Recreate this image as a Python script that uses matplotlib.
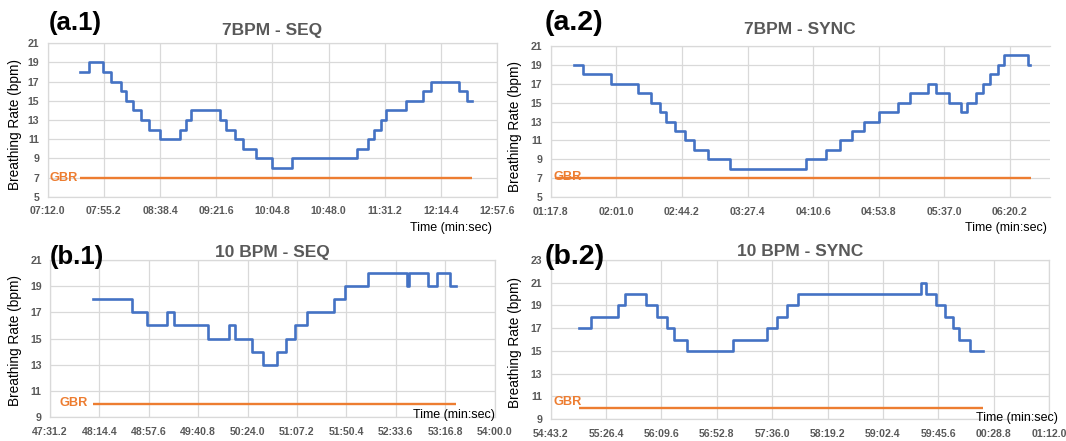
import numpy as np
import matplotlib
matplotlib.use("Agg")
import matplotlib.pyplot as plt
from matplotlib.ticker import FixedLocator, FuncFormatter

plt.rcParams['font.family'] = ['Liberation Sans', 'DejaVu Sans']

W, H = 1066, 441

# ---------------- data (time in seconds, breathing rate in bpm) ----------------
A1_T = [457.2, 463.7, 474.2, 480.4, 488.0, 492.4, 497.6, 503.6, 510.1, 518.4,
        533.8, 538.2, 542.6, 564.2, 569.4, 575.9, 582.2, 592.0, 604.5, 620.2,
        670.1, 678.4, 682.9, 688.3, 692.2, 707.9, 720.3, 726.9, 748.2, 754.7, 758.6]
A1_V = [18, 19, 18, 17, 16, 15, 14, 13, 12, 11,
        12, 13, 14, 13, 12, 11, 10, 9, 8, 9,
        10, 11, 12, 13, 14, 15, 16, 17, 16, 15, 15]
A1_GBR = 7
A1_GBR_T = [457.2, 758.6]

A2_T = [93.1, 99.2, 117.5, 135.6, 143.9, 149.8, 154.0, 159.7, 166.0, 172.1,
        181.6, 196.0, 245.6, 259.2, 268.0, 275.9, 283.8, 293.9, 306.3, 314.2,
        326.0, 331.8, 340.2, 348.1, 351.9, 357.8, 362.3, 366.8, 372.2, 376.3,
        392.0, 393.6]
A2_V = [19, 18, 17, 16, 15, 14, 13, 12, 11, 10,
        9, 8, 9, 10, 11, 12, 13, 14, 15, 16,
        17, 16, 15, 14, 15, 16, 17, 18, 19, 20,
        19, 19]
A2_GBR = 7
A2_GBR_T = [80.5, 394.0]

B1_T = [2888.7, 2923.2, 2935.7, 2953.7, 2959.6, 2989.7, 3007.7, 3013.3, 3027.5, 3037.8,
        3049.6, 3057.9, 3065.9, 3075.6, 3099.2, 3109.6, 3129.4, 3163.9, 3165.4, 3181.6,
        3189.3, 3201.1, 3206.1]
B1_V = [18, 17, 16, 17, 16, 15, 16, 15, 14, 13,
        14, 15, 16, 17, 18, 19, 20, 19, 20, 19,
        20, 19, 19]
B1_GBR = 10
B1_GBR_T = [2888.7, 3206.1]

B2_T = [3305.4, 3315.0, 3335.6, 3341.5, 3357.5, 3366.1, 3373.6, 3379.4, 3389.6, 3425.7,
        3451.9, 3459.9, 3467.9, 3475.9, 3572.2, 3576.2, 3584.2, 3590.6, 3596.8, 3602.1,
        3610.7, 3620.3]
B2_V = [17, 18, 19, 20, 19, 18, 17, 16, 15, 16,
        17, 18, 19, 20, 21, 20, 19, 18, 17, 16,
        15, 15]
B2_GBR = 10
B2_GBR_T = [3305.4, 3620.3]

TITLES = ["7BPM - SEQ", "7BPM - SYNC", "10 BPM - SEQ", "10 BPM - SYNC"]
PANEL_LABELS = ["(a.1)", "(a.2)", "(b.1)", "(b.2)"]
# x axis: first tick, step, axis max (seconds)
X_START = [432.0, 77.8, 2851.2, 3283.2]
X_STEP = 43.2
X_MAX = [777.6, 406.6, 3240.0, 3672.0]
Y_RANGE = [(5, 21), (5, 21), (9, 21), (9, 23)]

BLUE = '#4472C4'
ORANGE = '#ED7D31'
GRID = '#D9D9D9'
TICKC = '#595959'


def px(x, y):
    return x / W, 1 - y / H


def fmt(t, pos=None):
    d = int(round(t * 10))
    m = (d // 600) % 60
    s = (d % 600) / 10
    return f"{m:02d}:{s:04.1f}"


fig = plt.figure(figsize=(W / 100, H / 100), dpi=100)

# axes boxes in pixels: left, right, top, bottom
BOXES = [(47.7, 497.0, 43.3, 196.7),
         (550.7, 1050.0, 46.0, 197.0),
         (50.0, 494.5, 260.0, 417.0),
         (550.7, 1049.0, 260.0, 419.0)]

series = [(A1_T, A1_V, A1_GBR, A1_GBR_T),
          (A2_T, A2_V, A2_GBR, A2_GBR_T),
          (B1_T, B1_V, B1_GBR, B1_GBR_T),
          (B2_T, B2_V, B2_GBR, B2_GBR_T)]

axes = []
for i, (box, (T, V, g, gT)) in enumerate(zip(BOXES, series)):
    l, r, t, b = box
    ax = fig.add_axes([l / W, 1 - b / H, (r - l) / W, (b - t) / H])
    axes.append(ax)
    x0, x1 = X_START[i], X_MAX[i]
    y0, y1 = Y_RANGE[i]
    ax.set_xlim(x0, x1)
    ax.set_ylim(y0, y1)
    n = int(np.floor((x1 - x0) / X_STEP + 1e-6))
    xt = [x0 + k * X_STEP for k in range(n + 1)]
    ax.xaxis.set_major_locator(FixedLocator(xt))
    ax.xaxis.set_major_formatter(FuncFormatter(fmt))
    ax.set_yticks(np.arange(y0, y1 + 1, 2))
    ax.grid(True, color=GRID, lw=0.9)
    ax.set_axisbelow(True)
    for s in ax.spines.values():
        s.set_color(GRID)
        s.set_linewidth(0.9)
    if i == 1:
        ax.spines['right'].set_visible(False)
    ax.tick_params(length=0, labelsize=7.6, labelcolor=TICKC, pad=6)
    ax.tick_params(axis='x', pad=7)
    for lab in ax.get_xticklabels() + ax.get_yticklabels():
        lab.set_fontweight('bold')
    ax.plot(gT, [g, g], color=ORANGE, lw=1.7, solid_capstyle='butt', zorder=3)
    ax.step(T, V, where='post', color=BLUE, lw=1.9, zorder=4)

# titles
for (x, y), s in zip([(272, 30), (800, 30), (272, 252), (800, 252)], TITLES):
    fig.text(*px(x, y), s, ha='center', va='center', fontsize=12.5,
             fontweight='bold', color=TICKC)

# panel labels
for (x, y, fs), s in zip([(49, 23, 18.5), (545, 23, 20.5), (50, 257, 18.5), (545, 257, 20.5)],
                         PANEL_LABELS):
    fig.text(*px(x, y), s, ha='left', va='center', fontsize=fs,
             fontweight='bold', color='black')

# y labels
for (x, y) in [(15, 125), (515, 127), (15, 340), (515, 342)]:
    fig.text(*px(x, y), "Breathing Rate (bpm)", ha='center', va='center',
             rotation=90, fontsize=9.8, color='black')

# x labels
for (x, y) in [(492, 228), (1047, 228), (495, 415), (1058, 418)]:
    fig.text(*px(x, y), "Time (min:sec)", ha='right', va='center',
             fontsize=9, color='black', zorder=10)

# GBR labels
for (x, y) in [(78, 178), (554, 177), (59, 403), (554, 402)]:
    fig.text(*px(x, y), "GBR", ha='left' if x > 500 or x < 70 else 'right',
             va='center', fontsize=9.2, fontweight='bold', color=ORANGE, zorder=10)

fig.savefig("out.png", dpi=100)
